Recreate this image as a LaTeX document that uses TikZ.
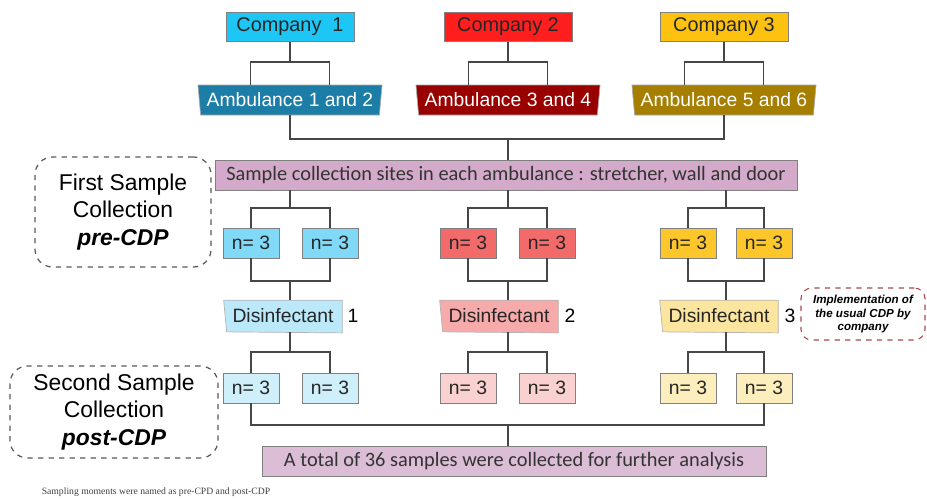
\documentclass[tikz,border=0pt]{standalone}
\usepackage{fontspec}
\setmainfont{Liberation Sans}
\newfontfamily\calfont{Carlito}
\newfontfamily\notefont{Liberation Serif}
\usetikzlibrary{shapes.geometric, backgrounds}
\definecolor{boxgray}{RGB}{128, 128, 128}
\definecolor{linegray}{RGB}{70, 70, 70}
\definecolor{comp1}{HTML}{1DC6F4}
\definecolor{comp2}{HTML}{FF1E1E}
\definecolor{comp3}{HTML}{FDC110}
\definecolor{amb1}{HTML}{1C7EA6}
\definecolor{amb2}{HTML}{990000}
\definecolor{amb3}{HTML}{A67E00}
\definecolor{sitecol}{HTML}{D4AACA}
\definecolor{totcol}{HTML}{DCBDD6}
\definecolor{preb}{HTML}{80D9F7}
\definecolor{prer}{HTML}{F26A6A}
\definecolor{prey}{HTML}{FDC72C}
\definecolor{disb}{HTML}{BCE9FA}
\definecolor{disr}{HTML}{F6AAAA}
\definecolor{disy}{HTML}{FCE59E}
\definecolor{postb}{HTML}{CFF0FB}
\definecolor{postr}{HTML}{FAD1D1}
\definecolor{posty}{HTML}{FDEEBD}
\definecolor{implred}{HTML}{A84848}

\begin{document}
\begin{tikzpicture}[
    x = 0.02cm, y = -0.02cm,
    conn/.style = {draw = linegray, line width = 0.7pt},
    comp/.style = {draw = boxgray, line width = 0.5pt, minimum width = 2.56cm, minimum height = 0.58cm, inner sep = 0pt, text = black!85, font = \fontsize{11.3}{13}\selectfont},
    amb/.style = {trapezium, shape border rotate = 180, trapezium angle = 80, trapezium stretches = true, draw = boxgray!70, line width = 0.4pt, minimum width = 3.7cm, minimum height = 0.6cm, inner sep = 0pt, text = white, font = \fontsize{11}{13}\selectfont},
    nbox/.style = {draw = boxgray, line width = 0.5pt, minimum width = 1.12cm, minimum height = 0.6cm, inner sep = 0pt, text = black!85, font = \fontsize{11}{13}\selectfont},
    dis/.style = {minimum width = 2.36cm, minimum height = 0.62cm, inner sep = 0pt, text = black!85, font = \fontsize{11}{13}\selectfont},
    wide/.style = {draw = boxgray, line width = 0.5pt, minimum height = 0.6cm, inner sep = 0pt, text = black!80, font = \calfont\fontsize{11.6}{13}\selectfont},
    moment/.style = {draw = black!65, dashed, line width = 0.7pt, rounded corners = 10pt, align = center, inner sep = 0pt, font = \fontsize{13}{15.5}\selectfont},
]
\useasboundingbox (0,0) rectangle (927,498);

% companies and ambulances
\node[comp, fill = comp1] (c1) at (290,27) {Company~~1};
\node[comp, fill = comp2] (c2) at (508,27) {Company 2};
\node[comp, fill = comp3] (c3) at (724,27) {Company 3};
\node[amb, fill = amb1] (a1) at (290,100) {Ambulance 1 and 2};
\node[amb, fill = amb2] (a2) at (508,100) {Ambulance 3 and 4};
\node[amb, fill = amb3] (a3) at (724,100) {Ambulance 5 and 6};

\node[wide, fill = sitecol, minimum width = 11.64cm] (site) at (506,175) {Sample collection sites in each ambulance : stretcher, wall and door};

% first collection
\node[nbox, fill = preb] (n11) at (251,243) {n= 3};
\node[nbox, fill = preb] (n12) at (330,243) {n= 3};
\node[nbox, fill = prer] (n21) at (468,243) {n= 3};
\node[nbox, fill = prer] (n22) at (547,243) {n= 3};
\node[nbox, fill = prey] (n31) at (688,243) {n= 3};
\node[nbox, fill = prey] (n32) at (764,243) {n= 3};

% disinfectants
\node[dis] (d1) at (283,316) {Disinfectant};
\node[dis] (d2) at (499,316) {Disinfectant};
\node[dis] (d3) at (719,316) {Disinfectant};
\node[font = \fontsize{11}{13}\selectfont] (l1) at (353,316) {1};
\node[font = \fontsize{11}{13}\selectfont] (l2) at (570,316) {2};
\node[font = \fontsize{11}{13}\selectfont] (l3) at (790,316) {3};
\begin{scope}[on background layer]
\foreach \d/\col in {d1/disb, d2/disr, d3/disy}
  \filldraw[fill = \col, draw = boxgray!60, line width = 0.4pt] (\d.north west) -- (\d.north east) -- ([yshift=-0.6pt]\d.south east) -- ([xshift=1.7pt]\d.south west) -- cycle;
\end{scope}

% second collection
\node[nbox, fill = postb] (p11) at (251,388) {n= 3};
\node[nbox, fill = postb] (p12) at (330,388) {n= 3};
\node[nbox, fill = postr] (p21) at (468,388) {n= 3};
\node[nbox, fill = postr] (p22) at (547,388) {n= 3};
\node[nbox, fill = posty] (p31) at (688,388) {n= 3};
\node[nbox, fill = posty] (p32) at (764,388) {n= 3};

\node[wide, fill = totcol, minimum width = 10.08cm] (tot) at (514,461) {A total of 36 samples were collected for further analysis};

% side notes
\node[moment, minimum width = 3.52cm, minimum height = 2.2cm] (first) at (123,212) {First Sample\\Collection\\\textbf{\textit{pre-CDP}}};
\node[moment, minimum width = 4.16cm, minimum height = 1.84cm] (second) at (114,412) {Second Sample\\Collection\\\textbf{\textit{post-CDP}}};
\node[draw = implred, dashed, line width = 0.6pt, rounded corners = 6pt, align = center, inner sep = 0pt, minimum width = 2.48cm, minimum height = 1.04cm, font = \bfseries\itshape\fontsize{6.6}{7.8}\selectfont] (impl) at (863,314) {Implementation of\\the usual CDP by\\company};
\node[font = \notefont\fontsize{5.5}{6}\selectfont, text = black!75] (note) at (156,492) {Sampling moments were named as pre-CPD and post-CDP};

% junctions
\coordinate (j1) at (290,62);
\coordinate (j2) at (508,62);
\coordinate (j3) at (724,62);
\coordinate (jm) at (508,139);
\coordinate (t1) at (290,208);
\coordinate (t2) at (508,208);
\coordinate (t3) at (726,208);
\coordinate (b1) at (290,281);
\coordinate (b2) at (508,281);
\coordinate (b3) at (726,281);
\coordinate (m1) at (290,352);
\coordinate (m2) at (508,352);
\coordinate (m3) at (726,352);
\coordinate (e) at (508,425);

% connectors
\foreach \i in {1,2,3} {
  \draw[conn] (c\i.south) -- (j\i);
  \draw[conn] ([xshift=-0.79cm]j\i |- a\i.north) |- (j\i) -| ([xshift=0.79cm]j\i |- a\i.north);
  \draw[conn] (t\i |- site.south) -- (t\i);
  \draw[conn] (n\i1.north) |- (t\i) -| (n\i2.north);
  \draw[conn] (n\i1.south) |- (b\i) -| (n\i2.south);
  \draw[conn] (b\i) -- (b\i |- d\i.north);
  \draw[conn] (m\i |- d\i.south) -- (m\i);
  \draw[conn] (p\i1.north) |- (m\i) -| (p\i2.north);
}
\draw[conn] (a1.south) |- (jm) -| (a3.south);
\draw[conn] (jm) -- (jm |- site.north);
\draw[conn] (p11.south) |- (e) -| (p32.south);
\draw[conn] (e) -- (e |- tot.north);
\end{tikzpicture}
\end{document}
